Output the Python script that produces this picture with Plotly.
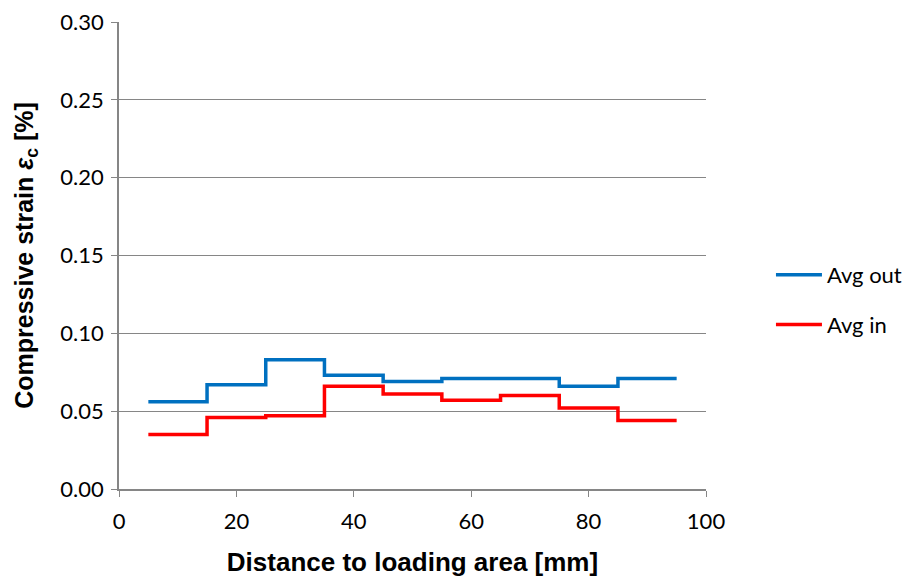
import plotly.graph_objects as go

# Segment centres along the specimen [mm]
distance = [10, 20, 30, 40, 50, 60, 70, 80, 90]
segment_width = 10
avg_out = [0.056, 0.067, 0.083, 0.073, 0.069, 0.071, 0.071, 0.066, 0.071]
avg_in = [0.035, 0.046, 0.047, 0.066, 0.061, 0.057, 0.060, 0.052, 0.044]

x_ticks = [0, 20, 40, 60, 80, 100]
y_ticks = [0.00, 0.05, 0.10, 0.15, 0.20, 0.25, 0.30]


def step(xc, vals, w):
    xs = [c - w / 2 for c in xc] + [xc[-1] + w / 2]
    ys = list(vals) + [vals[-1]]
    return xs, ys


fig = go.Figure()
for name, vals, col, grp in [("Avg out", avg_out, "#0070C0", "a"), ("Avg in", avg_in, "#FF0000", "b")]:
    xs, ys = step(distance, vals, segment_width)
    fig.add_trace(go.Scatter(x=xs, y=ys, mode="lines", name=name, line=dict(color=col, width=3.5, shape="hv"),
                             legendgroup=grp))

tickfont = dict(family="Lato, 'Open Sans', sans-serif", size=22, color="#000")
fig.update_layout(
    width=914, height=581,
    margin=dict(l=119, r=208, t=22, b=92),
    plot_bgcolor="white", paper_bgcolor="white",
    showlegend=True,
    legend=dict(xref="container", yref="container", x=0.8435, y=0.4836, xanchor="left", yanchor="middle",
                tracegroupgap=18,
                font=dict(family="Lato, 'Open Sans', sans-serif", size=22, color="#000"),
                bgcolor="rgba(0,0,0,0)", itemwidth=46, borderwidth=0),
    xaxis=dict(range=[0, 100], tickvals=x_ticks, ticks="outside", ticklen=6, tickcolor="#868686",
               showline=True, linecolor="#868686", linewidth=1.5, showgrid=False, zeroline=False,
               tickfont=tickfont, ticklabelstandoff=6, automargin=False,
               title=dict(text="<b>Distance to loading area [mm]</b>", standoff=20,
                          font=dict(family="Liberation Sans, Arial, sans-serif", size=26, color="#000"))),
    yaxis=dict(range=[0, 0.30], tickvals=y_ticks, tickformat=".2f", ticks="outside", ticklen=6,
               tickcolor="#868686", showline=True, linecolor="#868686", linewidth=1.5,
               showgrid=True, gridcolor="#868686", gridwidth=1, zeroline=False,
               tickfont=tickfont, ticklabelstandoff=3, automargin=False,
               title=dict(text="<b>Compressive strain <i>ε</i><sub>c</sub> [%]</b>", standoff=20,
                          font=dict(family="Liberation Sans, Arial, sans-serif", size=25, color="#000"))),
)

fig.write_html("out.html")
